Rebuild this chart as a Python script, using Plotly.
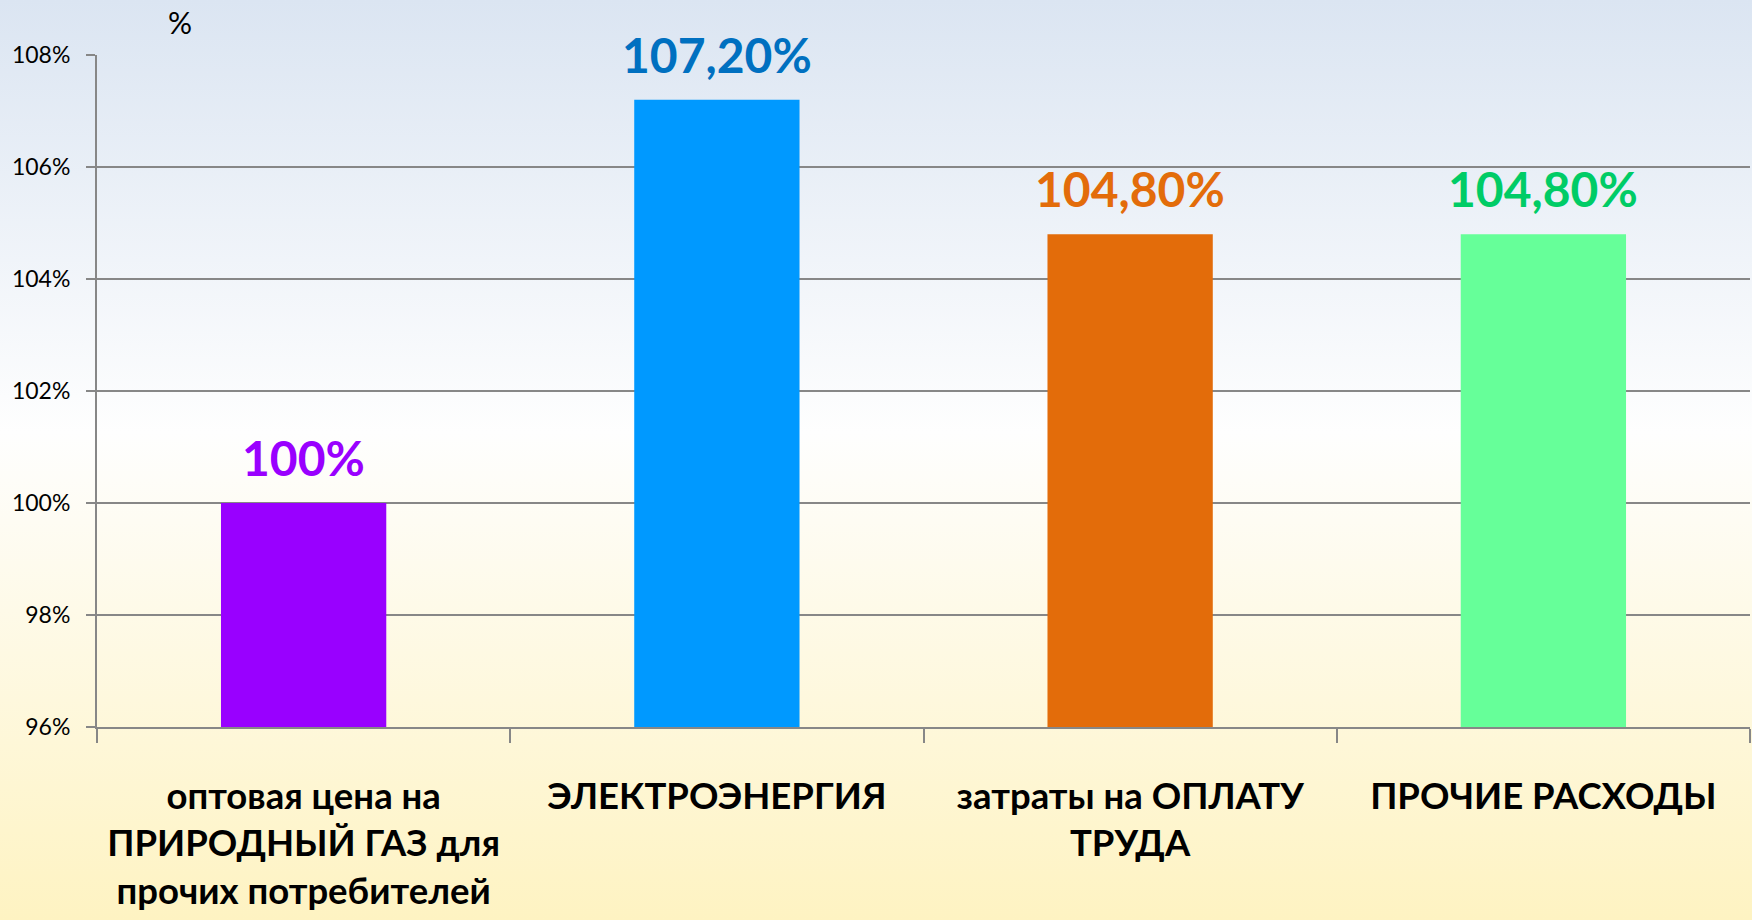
import base64
import plotly.graph_objects as go

categories = [
    "оптовая цена на<br>ПРИРОДНЫЙ ГАЗ для<br>прочих потребителей",
    "ЭЛЕКТРОЭНЕРГИЯ",
    "затраты на ОПЛАТУ<br>ТРУДА",
    "ПРОЧИЕ РАСХОДЫ",
]
values = [100.0, 107.2, 104.8, 104.8]
value_labels = ["100%", "107,20%", "104,80%", "104,80%"]
bar_colors = ["#9900ff", "#0099ff", "#e36c0a", "#66ff99"]
label_colors = ["#9900ff", "#0070c0", "#e36c0a", "#00cc66"]
y_ticks = [96, 98, 100, 102, 104, 106, 108]
y_tick_labels = ["96%", "98%", "100%", "102%", "104%", "106%", "108%"]

W, H = 1752, 920
ML, MR, MT, MB = 97, 2, 55, 193
PW, PH = W - ML - MR, H - MT - MB

FONT = "Lato, 'Open Sans', sans-serif"

svg = (
    '<svg xmlns="http://www.w3.org/2000/svg" width="100" height="100" preserveAspectRatio="none">'
    '<defs><linearGradient id="g" x1="0" y1="0" x2="0" y2="1">'
    '<stop offset="0" stop-color="#dbe5f2"/>'
    '<stop offset="0.47" stop-color="#fefefe"/>'
    '<stop offset="1" stop-color="#fef3c2"/>'
    '</linearGradient></defs>'
    '<rect width="100" height="100" fill="url(#g)"/></svg>'
)
bg_src = "data:image/svg+xml;base64," + base64.b64encode(svg.encode()).decode()

fig = go.Figure()
fig.add_trace(go.Bar(
    x=categories, y=values,
    marker=dict(color=bar_colors, line=dict(width=0)),
    hoverinfo="skip",
))

for c, v, t, col in zip(categories, values, value_labels, label_colors):
    fig.add_annotation(
        x=c, y=v, xref="x", yref="y", text=f"<b>{t}</b>", showarrow=False,
        yanchor="bottom", yshift=15,
        font=dict(family=FONT, size=48, color=col),
    )

fig.add_annotation(
    x=(180 - ML) / PW, y=1 + (MT - 22) / PH, xref="paper", yref="paper",
    text="%", showarrow=False, xanchor="center", yanchor="middle",
    font=dict(family=FONT, size=30, color="#000000"),
)

fig.add_layout_image(
    source=bg_src, xref="paper", yref="paper",
    x=-ML / PW, y=1 + MT / PH, sizex=W / PW, sizey=H / PH,
    xanchor="left", yanchor="top", sizing="stretch", layer="below",
)

fig.update_layout(
    width=W, height=H, autosize=False,
    margin=dict(l=ML, r=MR, t=MT, b=MB),
    paper_bgcolor="#ffffff", plot_bgcolor="rgba(0,0,0,0)",
    bargap=0.6, showlegend=False,
    font=dict(family=FONT, color="#000000"),
)
fig.update_yaxes(
    range=[96, 108], tickvals=y_ticks, ticktext=y_tick_labels,
    showgrid=True, gridcolor="#878787", gridwidth=2,
    showline=True, linecolor="#878787", linewidth=2,
    ticks="outside", ticklen=9, tickcolor="#878787", tickwidth=2,
    ticklabelstandoff=11,
    tickfont=dict(family=FONT, size=23, color="#000000"),
    zeroline=False, fixedrange=True,
)
fig.update_xaxes(
    type="category", tickson="boundaries",
    tickvals=categories, ticktext=[f"<b>{c}</b>" for c in categories],
    showline=True, linecolor="#878787", linewidth=2,
    ticks="outside", ticklen=14, tickcolor="#878787", tickwidth=2,
    ticklabelstandoff=36,
    tickfont=dict(family=FONT, size=36.5, color="#000000"),
    showgrid=False, fixedrange=True,
)

fig.write_html(
    "out.html",
    config={"displayModeBar": False, "staticPlot": True},
    post_script="document.body.style.margin='0';document.body.style.overflow='hidden';",
)
